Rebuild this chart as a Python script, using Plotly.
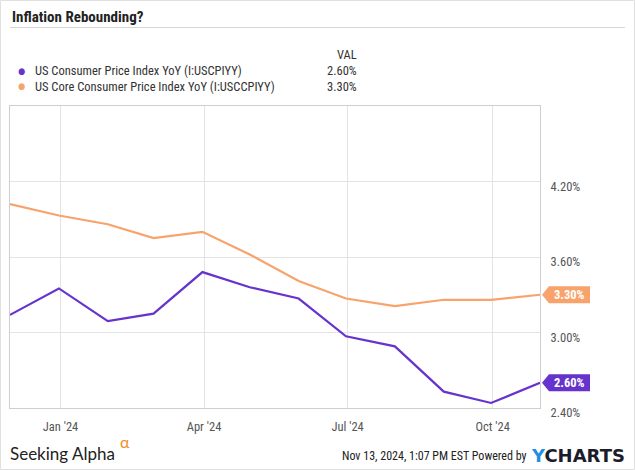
import plotly.graph_objects as go

# ---------------- data ----------------
dates = ["2023-11-30", "2023-12-31", "2024-01-31", "2024-02-29", "2024-03-31", "2024-04-30",
         "2024-05-31", "2024-06-30", "2024-07-31", "2024-08-31", "2024-09-30", "2024-10-31"]
cpi_yoy = [3.14, 3.35, 3.09, 3.15, 3.48, 3.36, 3.27, 2.97, 2.89, 2.53, 2.44, 2.60]
core_cpi_yoy = [4.02, 3.93, 3.86, 3.75, 3.80, 3.62, 3.41, 3.27, 3.21, 3.26, 3.26, 3.30]
series_names = ["US Consumer Price Index YoY (I:USCPIYY)",
                "US Core Consumer Price Index YoY (I:USCCPIYY)"]
x_tickvals = ["2024-01-01", "2024-04-01", "2024-07-01", "2024-10-01"]
x_ticktext = ["Jan '24", "Apr '24", "Jul '24", "Oct '24"]
y_tickvals = [2.4, 3.0, 3.6, 4.2]
y_ticktext = ["2.40%", "3.00%", "3.60%", "4.20%"]
title_text = "Inflation Rebounding?"
footer_text = "Nov 13, 2024, 1:07 PM EST Powered by"

# ---------------- style ----------------
PURPLE = "#6633cc"
ORANGE = "#f8a26c"
W, H = 635, 470
ML, MR, MT, MB = 10, 95, 106, 62
NARROW = "Liberation Sans Narrow, Roboto Condensed, DejaVu Sans Condensed, Roboto, sans-serif"
TXT = "#333333"


def px(x):
    return (x - ML) / (W - ML - MR)


def py(y):
    return (H - MB - y) / (H - MT - MB)


series = [(series_names[0], cpi_yoy, PURPLE), (series_names[1], core_cpi_yoy, ORANGE)]

fig = go.Figure()
for name, vals, col in series:
    fig.add_trace(go.Scatter(x=dates, y=vals, mode="lines", name=name,
                             line=dict(color=col, width=2.2), hoverinfo="skip"))

annotations = []
shapes = []

# title + separator
annotations.append(dict(x=px(10), y=py(17), xref="paper", yref="paper", text="<b>" + title_text + "</b>",
                        showarrow=False, xanchor="left", yanchor="middle",
                        font=dict(family=NARROW, size=15, color="#222222")))
shapes.append(dict(type="line", xref="paper", yref="paper", x0=px(10), x1=px(625), y0=py(27.5), y1=py(27.5),
                   line=dict(color="#d6d6d6", width=1)))
# outer border
shapes.append(dict(type="rect", xref="paper", yref="paper", x0=px(0.5), x1=px(634.5), y0=py(0.5), y1=py(469.5),
                   line=dict(color="#e0e0e0", width=1), layer="below"))

# legend block
annotations.append(dict(x=px(359), y=py(54.5), xref="paper", yref="paper", text="VAL", showarrow=False,
                        xanchor="right", yanchor="middle", font=dict(family=NARROW, size=12.5, color=TXT)))
for i, (name, vals, col) in enumerate(series):
    yy = 70.5 + 15.5 * i
    annotations.append(dict(x=px(21), y=py(yy), xref="paper", yref="paper", text="●", showarrow=False,
                            xanchor="center", yanchor="middle", font=dict(size=9, color=col)))
    annotations.append(dict(x=px(33), y=py(yy), xref="paper", yref="paper", text=name, showarrow=False,
                            xanchor="left", yanchor="middle", font=dict(family=NARROW, size=12.5, color=TXT)))
    annotations.append(dict(x=px(359), y=py(yy), xref="paper", yref="paper", text=f"{vals[-1]:.2f}%",
                            showarrow=False, xanchor="right", yanchor="middle",
                            font=dict(family=NARROW, size=12.5, color=TXT)))

# end-of-line value flags
for name, vals, col in series:
    shapes.append(dict(type="path", xref="x domain", yref="y", xsizemode="pixel", ysizemode="pixel",
                       xanchor=1, yanchor=vals[-1],
                       path="M 2 0 L 9 8.5 L 50 8.5 L 50 -8.5 L 9 -8.5 Z",
                       fillcolor=col, line=dict(width=0), layer="above"))
    annotations.append(dict(x=1, xref="x domain", y=vals[-1], yref="y", text=f"<b>{vals[-1]:.2f}%</b>",
                            showarrow=False, xanchor="center", yanchor="middle", xshift=29.5,
                            font=dict(family=NARROW, size=12.5, color="white")))

# footer
annotations.append(dict(x=px(9), y=py(453), xref="paper", yref="paper",
                        text="Seeking Alpha",
                        showarrow=False, xanchor="left", yanchor="middle", borderpad=0,
                        font=dict(family="Lato, Noto Sans, sans-serif", size=17, color="#222222")))
annotations.append(dict(x=px(119), y=py(441), xref="paper", yref="paper",
                        text="α",
                        showarrow=False, xanchor="left", yanchor="middle", borderpad=0,
                        font=dict(family="Lato, Noto Sans, sans-serif", size=16, color="#f28c28")))
annotations.append(dict(x=px(529), y=py(456), xref="paper", yref="paper", text=footer_text,
                        showarrow=False, xanchor="right", yanchor="middle",
                        font=dict(family=NARROW, size=12, color="#222222")))
annotations.append(dict(x=px(627), y=py(455), xref="paper", yref="paper",
                        text="<b><span style='color:#1f8fe0'>Y</span>CHARTS</b>",
                        showarrow=False, xanchor="right", yanchor="middle",
                        font=dict(family="DejaVu Sans, sans-serif", size=18, color="#1c1c2b")))

fig.update_layout(
    width=W, height=H,
    margin=dict(l=ML, r=MR, t=MT, b=MB, pad=0),
    paper_bgcolor="white", plot_bgcolor="white",
    showlegend=False,
    annotations=annotations, shapes=shapes,
    font=dict(family=NARROW, color="#555555"),
)
fig.update_xaxes(type="date", range=["2023-11-30", "2024-10-31"],
                 tickvals=x_tickvals, ticktext=x_ticktext, ticks="",
                 showgrid=True, gridcolor="#e3e3e3", gridwidth=1,
                 showline=True, linecolor="#cfcfcf", linewidth=1, mirror=True,
                 tickfont=dict(family=NARROW, size=12.5, color="#555555"),
                 ticklabelstandoff=7, zeroline=False)
fig.update_yaxes(range=[2.4, 4.8], side="right",
                 tickvals=y_tickvals, ticktext=y_ticktext, ticks="",
                 showgrid=True, gridcolor="#e3e3e3", gridwidth=1,
                 showline=True, linecolor="#cfcfcf", linewidth=1, mirror=True,
                 tickfont=dict(family=NARROW, size=12.5, color="#555555"),
                 ticklabelstandoff=7, ticklabelshift=5, zeroline=False)

fig.write_html("out.html", config={"displayModeBar": False},
               post_script="document.body.style.margin='0';document.body.style.overflow='hidden';")
